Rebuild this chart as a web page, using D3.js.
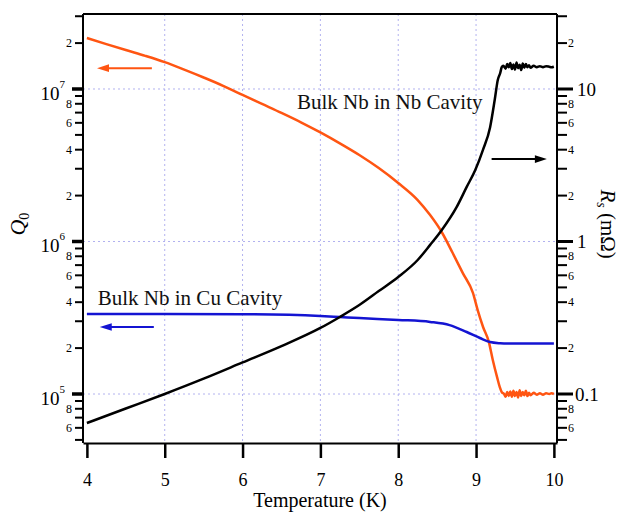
<!DOCTYPE html>
<html>
<head>
<meta charset="utf-8">
<script src="https://cdn.jsdelivr.net/npm/d3@7"></script>
<style>
    body { margin: 0; background: #fff; }
    svg { display: block; font-family: 'Liberation Serif', 'Times New Roman', serif; }
</style>
</head>
<body>
<svg id="chart" width="621" height="512"></svg>
<script>
// Q0 of bulk Nb in the Nb cavity (orange)
const tempNbQ = [4.0, 4.25, 4.5, 4.75, 5.0, 5.25, 5.5, 5.75, 6.0, 6.25, 6.5, 6.75, 7.0, 7.25, 7.5, 7.75,
    8.0, 8.25, 8.41, 8.56, 8.70, 8.83, 8.96, 9.02, 9.09, 9.165, 9.215, 9.27, 9.305, 9.33, 9.36,
    9.38, 9.40, 9.42, 9.44, 9.46, 9.48, 9.50, 9.52, 9.54, 9.56, 9.58, 9.60, 9.62, 9.64, 9.66, 9.68,
    9.70, 9.74, 9.78, 9.82, 9.86, 9.90, 9.94, 9.97, 10.0]
const q0Nb = [2.16e7, 1.97e7, 1.80e7, 1.65e7, 1.50e7, 1.34e7, 1.19e7, 1.05e7, 9.14e6, 7.98e6, 6.97e6, 6.05e6, 5.19e6, 4.40e6, 3.69e6, 3.03e6,
    2.42e6, 1.87e6, 1.49e6, 1.15e6, 8.4e5, 6.2e5, 4.6e5, 3.56e5, 2.75e5, 2.19e5, 1.67e5, 1.29e5, 1.11e5, 1.03e5, 1.0e5,
    0.96e5, 1.03e5, 0.97e5, 1.04e5, 0.96e5, 1.05e5, 0.97e5, 1.03e5, 0.95e5, 1.06e5, 0.97e5, 1.03e5, 0.98e5, 1.05e5, 0.97e5, 1.02e5,
    0.98e5, 1.02e5, 0.99e5, 1.01e5, 0.99e5, 1.01e5, 1.0e5, 1.01e5, 1.0e5]

// Rs of bulk Nb in the Nb cavity, mOhm (black)
const tempNbRs = [4.0, 4.5, 5.0, 5.5, 6.0, 6.5, 7.0, 7.25, 7.5, 7.75, 8.0, 8.25, 8.41, 8.56,
    8.75, 8.88, 8.99, 9.09, 9.18, 9.24, 9.28, 9.31, 9.33,
    9.35, 9.38, 9.40, 9.42, 9.44, 9.46, 9.48, 9.50, 9.52, 9.54, 9.56, 9.58, 9.60, 9.62, 9.64, 9.66, 9.68,
    9.70, 9.74, 9.78, 9.82, 9.86, 9.90, 9.94, 9.97, 10.0]
const rsNb = [0.0645, 0.0803, 0.100, 0.126, 0.161, 0.206, 0.271, 0.320, 0.383, 0.473, 0.585, 0.756, 0.95, 1.19,
    1.68, 2.28, 2.94, 4.0, 5.6, 8.5, 11.5, 12.7, 13.9,
    14.2, 13.6, 14.6, 13.9, 14.8, 13.5, 14.5, 13.4, 14.9, 13.7, 14.4, 13.3, 14.7, 13.8, 14.6, 13.9, 14.3,
    13.8, 14.2, 13.9, 14.1, 13.9, 14.1, 14.0, 13.9, 14.0]

// Q0 of bulk Nb in the Cu cavity (blue)
const tempCuQ = [4.0, 5.0, 6.0, 7.0, 7.25, 7.5, 8.0, 8.41, 8.66, 8.88, 9.05, 9.18, 9.31, 9.4, 10.0]
const q0Cu = [3.35e5, 3.35e5, 3.34e5, 3.25e5, 3.2e5, 3.15e5, 3.06e5, 2.97e5, 2.83e5, 2.55e5, 2.33e5, 2.19e5, 2.15e5, 2.14e5, 2.14e5]

const tempTicks = [4, 5, 6, 7, 8, 9, 10]
const tempGrid = [5, 6, 7, 8, 9]
const q0Decades = [1e5, 1e6, 1e7]
const labelledDigits = [2, 4, 6, 8]

const labelNbCavity = 'Bulk Nb in Nb Cavity'
const labelCuCavity = 'Bulk Nb in Cu Cavity'

const colors = {nb: '#ff5512', cu: '#1414d2', rs: '#000', grid: '#b2b2ef'}

const chart = {}
chart.svg = d3.select('#chart')
chart.margin = {top: 14, right: 64, bottom: 69, left: 83}
chart.width = 621 - chart.margin.left - chart.margin.right
chart.height = 512 - chart.margin.top - chart.margin.bottom

const x = d3.scaleLinear().domain([3.95, 10.04]).range([0, chart.width])
const y = d3.scaleLog().domain([4.772e4, 3.103e7]).range([chart.height, 0])
const yR = d3.scaleLog().domain([0.04772, 31.03]).range([chart.height, 0])

const g = chart.svg.append('g')
    .attr('transform', `translate(${chart.margin.left},${chart.margin.top})`)

function logTicks(scale) {
    const [lo, hi] = scale.domain()
    let out = []
    for (let e = Math.floor(Math.log10(lo)); e <= Math.ceil(Math.log10(hi)); e++) {
        for (let m = 1; m <= 9; m++) {
            const v = m * Math.pow(10, e)
            if (v >= lo && v <= hi) out.push({v, m, e})
        }
    }
    return out
}

// grid
g.append('g').selectAll('line').data(tempGrid).join('line')
    .attr('x1', d => x(d)).attr('x2', d => x(d))
    .attr('y1', 0).attr('y2', chart.height)
    .attr('stroke', colors.grid).attr('stroke-dasharray', '2,3')
g.append('g').selectAll('line').data(q0Decades).join('line')
    .attr('x1', 0).attr('x2', chart.width)
    .attr('y1', d => y(d)).attr('y2', d => y(d))
    .attr('stroke', colors.grid).attr('stroke-dasharray', '2,3')

// curves
const lineNb = d3.line().x(d => x(d[0])).y(d => y(d[1])).curve(d3.curveMonotoneX)
const lineRs = d3.line().x(d => x(d[0])).y(d => yR(d[1])).curve(d3.curveMonotoneX)
const lineCu = d3.line().x(d => x(d[0])).y(d => y(d[1])).curve(d3.curveMonotoneX)

g.append('path').datum(d3.zip(tempNbQ, q0Nb))
    .attr('d', lineNb).attr('fill', 'none').attr('stroke', colors.nb).attr('stroke-width', 2.5)
    .attr('stroke-linejoin', 'round')
g.append('path').datum(d3.zip(tempCuQ, q0Cu))
    .attr('d', lineCu).attr('fill', 'none').attr('stroke', colors.cu).attr('stroke-width', 2.5)
g.append('path').datum(d3.zip(tempNbRs, rsNb))
    .attr('d', lineRs).attr('fill', 'none').attr('stroke', colors.rs).attr('stroke-width', 2.5)
    .attr('stroke-linejoin', 'round')

// frame
g.append('line').attr('x1', 0).attr('x2', chart.width).attr('y1', 0).attr('y2', 0)
    .attr('stroke', '#000').attr('stroke-width', 2)

// x axis
const xAxis = g.append('g').attr('transform', `translate(0,${chart.height})`)
    .call(d3.axisBottom(x).tickValues(tempTicks).tickFormat(d3.format('d'))
        .tickSize(15).tickSizeOuter(0).tickPadding(15))
xAxis.select('.domain').attr('stroke-width', 2)
xAxis.selectAll('.tick line').attr('stroke-width', 2.5)
xAxis.selectAll('text').attr('font-size', 18).attr('font-family', 'Liberation Serif')

// left axis
const qTicks = logTicks(y)
const left = g.append('g')
left.append('line').attr('x1', 0).attr('x2', 0).attr('y1', 0).attr('y2', chart.height)
    .attr('stroke', '#000').attr('stroke-width', 2)
left.selectAll('line.tick').data(qTicks).join('line').attr('class', 'tick')
    .attr('x1', d => d.m === 1 ? -11 : -8).attr('x2', 0)
    .attr('y1', d => y(d.v)).attr('y2', d => y(d.v))
    .attr('stroke', '#000').attr('stroke-width', d => d.m === 1 ? 3.5 : 2)
left.selectAll('text.minor').data(qTicks.filter(d => labelledDigits.includes(d.m))).join('text')
    .attr('class', 'minor')
    .attr('x', -11).attr('y', d => y(d.v)).attr('dy', '0.35em')
    .attr('text-anchor', 'end').attr('font-size', 12).text(d => d.m)
const leftMajor = left.selectAll('text.major').data(qTicks.filter(d => d.m === 1)).join('text')
    .attr('class', 'major')
    .attr('x', -18).attr('y', d => y(d.v) + 11)
    .attr('text-anchor', 'end')
leftMajor.append('tspan').attr('font-size', 19).text('10')
leftMajor.append('tspan').attr('font-size', 11).attr('dy', -12).text(d => d.e)

// right axis
const rTicks = logTicks(yR)
const right = g.append('g').attr('transform', `translate(${chart.width},0)`)
right.append('line').attr('x1', 0).attr('x2', 0).attr('y1', 0).attr('y2', chart.height)
    .attr('stroke', '#000').attr('stroke-width', 2)
right.selectAll('line.tick').data(rTicks).join('line').attr('class', 'tick')
    .attr('x1', 0).attr('x2', d => d.m === 1 ? 16 : 10)
    .attr('y1', d => yR(d.v)).attr('y2', d => yR(d.v))
    .attr('stroke', '#000').attr('stroke-width', d => d.m === 1 ? 3 : 2)
right.selectAll('text.minor').data(rTicks.filter(d => labelledDigits.includes(d.m))).join('text')
    .attr('class', 'minor')
    .attr('x', 11).attr('y', d => yR(d.v)).attr('dy', '0.35em')
    .attr('font-size', 12).text(d => d.m)
right.selectAll('text.major').data(rTicks.filter(d => d.m === 1)).join('text')
    .attr('class', 'major')
    .attr('x', d => d.v < 1 ? 18 : 20).attr('y', d => yR(d.v)).attr('dy', '0.35em')
    .attr('font-size', 19).text(d => d3.format('~g')(d.v))

// axis titles
const q0Title = chart.svg.append('text')
    .attr('transform', `translate(25,${chart.margin.top + y(1.3e6)}) rotate(-90)`)
    .attr('text-anchor', 'middle').attr('font-size', 22)
q0Title.append('tspan').attr('font-style', 'italic').text('Q')
q0Title.append('tspan').attr('font-size', 14).attr('dy', 4).text('0')

const rsTitle = chart.svg.append('text')
    .attr('transform', `translate(601,${chart.margin.top + y(1.3e6)}) rotate(90)`)
    .attr('text-anchor', 'middle').attr('font-size', 21)
rsTitle.append('tspan').attr('font-style', 'italic').text('R')
rsTitle.append('tspan').attr('font-style', 'italic').attr('font-size', 14).attr('dy', 4).text('s')
rsTitle.append('tspan').attr('dy', -4).text(' (mΩ)')

chart.svg.append('text')
    .attr('x', chart.margin.left + chart.width / 2).attr('y', 507)
    .attr('text-anchor', 'middle').attr('font-size', 20)
    .text('Temperature (K)')

// annotations
g.append('text').attr('x', x(6.70)).attr('y', y(7.4e6))
    .attr('font-size', 21).attr('fill', '#111').text(labelNbCavity)
g.append('text').attr('x', x(4.14)).attr('y', y(3.84e5))
    .attr('font-size', 21).attr('fill', '#111').text(labelCuCavity)

function arrow(x1, x2, yy, color) {
    const dir = Math.sign(x2 - x1)
    g.append('line').attr('x1', x1).attr('x2', x2 - dir * 9).attr('y1', yy).attr('y2', yy)
        .attr('stroke', color).attr('stroke-width', 2)
    g.append('path')
        .attr('d', `M${x2},${yy}L${x2 - dir * 12},${yy - 3.8}L${x2 - dir * 12},${yy + 3.8}Z`)
        .attr('fill', color)
}
arrow(x(4.835), x(4.13), y(1.37e7), colors.nb)
arrow(x(4.86), x(4.165), y(2.75e5), colors.cu)
arrow(x(9.2), x(9.91), yR(3.47), colors.rs)
</script>
</body>
</html>
